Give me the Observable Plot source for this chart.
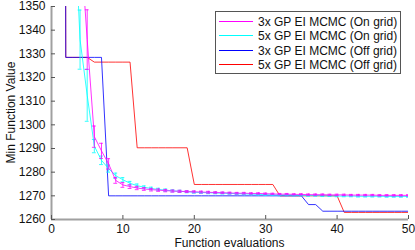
<!DOCTYPE html>
<html>
<head>
<meta charset="utf-8">
<script src="https://cdn.jsdelivr.net/npm/d3@7"></script>
<script src="https://cdn.jsdelivr.net/npm/@observablehq/plot@0.6"></script>
<style>
  html, body { margin: 0; padding: 0; background: #fff; }
  #chart { position: relative; width: 415px; height: 250px; }
  #chart svg { position: absolute; left: 0; top: 0; }
</style>
</head>
<body>
<div id="chart"></div>
<script>
// ---- data (x = 1..50 function evaluations) ----
const evals = d3.range(1, 51);
const xTicks = [0, 10, 20, 30, 40, 50];
const yTicks = [1260, 1270, 1280, 1290, 1300, 1310, 1320, 1330, 1340, 1350];
const xTitle = "Function evaluations";
const yTitle = "Min Function Value";
const seriesNames = [
  "3x GP EI MCMC (On grid)",
  "5x GP EI MCMC (On grid)",
  "3x GP EI MCMC (Off grid)",
  "5x GP EI MCMC (Off grid)"
];
const seriesColors = ["#ff00ff", "#00ffff", "#0000ff", "#ff0000"];

// 3x on grid (mean and error)
const onGrid3 = [null, null, null, 1380, 1336, 1295, 1289, 1283.5, 1276.5, 1274.6,
  1273.9, 1273.3, 1272.9, 1272.6, 1272.4, 1272.2, 1272.0, 1271.9, 1271.8, 1271.7,
  1271.6, 1271.5, 1271.4, 1271.3, 1271.2, 1271.1, 1271.1, 1271.0, 1271.0, 1270.9,
  1270.8, 1270.7, 1270.7, 1270.6, 1270.6, 1270.5, 1270.5, 1270.5, 1270.4, 1270.4,
  1270.4, 1270.3, 1270.3, 1270.3, 1270.3, 1270.2, 1270.2, 1270.2, 1270.2, 1270.2];
const onGrid3Err = [null, null, null, null, 12.6, 4.5, 3.2, 2.2, 1.2, 1.0,
  0.8, 0.7, 0.6, 0.55, 0.5, 0.5, 0.45, 0.45, 0.4, 0.4,
  0.4, 0.4, 0.35, 0.35, 0.35, 0.35, 0.35, 0.3, 0.3, 0.3,
  0.3, 0.3, 0.3, 0.3, 0.3, 0.3, 0.3, 0.3, 0.3, 0.3,
  0.3, 0.3, 0.3, 0.3, 0.3, 0.3, 0.3, 0.3, 0.3, 0.3];
// 5x on grid
const onGrid5 = [null, null, 1400, 1336, 1312.5, 1291, 1285, 1281.5, 1278.5, 1276.8,
  1275.3, 1274.3, 1273.6, 1273.1, 1272.7, 1272.4, 1272.1, 1271.9, 1271.7, 1271.5,
  1271.4, 1271.3, 1271.2, 1271.1, 1271.0, 1270.9, 1270.8, 1270.7, 1270.6, 1270.5,
  1270.4, 1270.3, 1270.3, 1270.2, 1270.2, 1270.1, 1270.1, 1270.0, 1270.0, 1269.9,
  1269.9, 1269.9, 1269.8, 1269.8, 1269.8, 1269.8, 1269.7, 1269.7, 1269.7, 1269.7];
const onGrid5Err = [null, null, null, 12.5, 11, 2.8, 1.8, 1.5, 1.1, 0.9,
  0.8, 0.7, 0.6, 0.55, 0.5, 0.5, 0.45, 0.45, 0.4, 0.4,
  0.4, 0.4, 0.35, 0.35, 0.35, 0.35, 0.35, 0.3, 0.3, 0.3,
  0.3, 0.3, 0.3, 0.3, 0.3, 0.3, 0.3, 0.3, 0.3, 0.3,
  0.3, 0.3, 0.3, 0.3, 0.3, 0.3, 0.3, 0.3, 0.3, 0.3];
// 3x off grid
const offGrid3 = [3000, 1328.5, 1328.5, 1328.5, 1328.5, 1328.5, 1328.5, 1270, 1270, 1270,
  1270, 1270, 1270, 1270, 1270, 1270, 1270, 1270, 1270, 1270,
  1270, 1270, 1270, 1270, 1270, 1270, 1270, 1270, 1270, 1270,
  1270, 1270, 1270, 1270, 1270, 1266.3, 1266.3, 1263.5, 1263.5, 1263.5,
  1263.5, 1263.5, 1263.5, 1263.5, 1263.5, 1263.5, 1263.5, 1263.5, 1263.5, 1263.5];
// 5x off grid
const offGrid5 = [3000, 1328.5, 1328.5, 1328.5, 1328.5, 1326.5, 1326.5, 1326.5, 1326.5, 1326.5,
  1326.5, 1290.3, 1290.3, 1290.3, 1290.3, 1290.3, 1290.3, 1290.3, 1290.3, 1274.8,
  1274.8, 1274.8, 1274.8, 1274.8, 1274.8, 1274.8, 1274.8, 1274.8, 1274.8, 1274.8,
  1274.8, 1270, 1270, 1270, 1270, 1270, 1270, 1270, 1270, 1270,
  1263, 1263, 1263, 1263, 1263, 1263, 1263, 1263, 1263, 1263];

// ---- build tables ----
const lineValues = [onGrid3, onGrid5, offGrid3, offGrid5];
const errValues = [onGrid3Err, onGrid5Err, null, null];
const lines = [];
const bars = [];
lineValues.forEach((vals, s) => {
  vals.forEach((v, i) => {
    if (v == null) return;
    lines.push({series: seriesNames[s], x: evals[i], y: v});
    const errs = errValues[s];
    if (errs && errs[i] != null) {
      bars.push({series: seriesNames[s], x: evals[i], lo: v - errs[i], hi: v + errs[i]});
    }
  });
});
const caps = bars.flatMap(b => [
  {series: b.series, x1: b.x - 0.27, x2: b.x + 0.27, y: b.lo},
  {series: b.series, x1: b.x - 0.27, x2: b.x + 0.27, y: b.hi}
]);
// draw order: red, blue, then on-grid series on top
const drawOrder = [3, 2, 1, 0];

const W = 415, H = 250;
const mL = 51, mR = 7, mT = 6, mB = 31;
const innerW = W - mL - mR, innerH = H - mT - mB;
const font = "'Liberation Sans', Arial, Helvetica, sans-serif";

const marks = [
  Plot.axisY({ticks: yTicks, tickSize: 0, tickPadding: 6, tickFormat: d => String(d), label: null, fontSize: 12, fill: "#111"}),
  Plot.axisX({ticks: xTicks, tickSize: 0, tickPadding: 5, tickFormat: d => String(d), label: null, fontSize: 12, fill: "#111"}),
  Plot.ruleX([0], {stroke: "#a0a0a0", strokeWidth: 2}),
  Plot.ruleY([1260], {stroke: "#a0a0a0", strokeWidth: 2}),
  Plot.ruleY(yTicks, {y: d => d, insetRight: innerW - 4, stroke: "#555"}),
  Plot.ruleX(xTicks, {x: d => d, insetTop: innerH - 4, stroke: "#555"}),
];
for (const s of drawOrder) {
  const name = seriesNames[s];
  marks.push(Plot.line(lines.filter(d => d.series === name), {
    x: "x", y: "y", stroke: seriesColors[s], strokeWidth: 1, strokeOpacity: 0.8, clip: true
  }));
  if (errValues[s]) {
    marks.push(Plot.ruleX(bars.filter(d => d.series === name), {
      x: "x", y1: "lo", y2: "hi", stroke: seriesColors[s], strokeWidth: 1, strokeOpacity: 0.8, clip: true
    }));
    marks.push(Plot.ruleY(caps.filter(d => d.series === name), {
      x1: "x1", x2: "x2", y: "y", stroke: seriesColors[s], strokeWidth: 1, strokeOpacity: 0.8, clip: true
    }));
  }
}

const chart = Plot.plot({
  width: W, height: H,
  marginLeft: mL, marginRight: mR, marginTop: mT, marginBottom: mB,
  x: {type: "linear", domain: [0, 50]},
  y: {type: "linear", domain: [1260, 1350]},
  style: {fontFamily: font, fontSize: "12px", background: "transparent", overflow: "visible"},
  marks
});
const host = document.getElementById("chart");
host.appendChild(chart);

// ---- overlay: axis titles and legend ----
const ov = d3.select(host).append("svg")
  .attr("width", W).attr("height", H)
  .attr("font-family", font).attr("font-size", 12);
ov.append("text")
  .attr("transform", `translate(11,${mT + innerH / 2}) rotate(-90)`)
  .attr("text-anchor", "middle").attr("dy", "0.35em").attr("fill", "#111").text(yTitle);
ov.append("text")
  .attr("x", mL + innerW / 2).attr("y", 242.5)
  .attr("text-anchor", "middle").attr("dy", "0.35em").attr("fill", "#111").text(xTitle);

const box = {x: 215, y: 11, w: 185, h: 62};
ov.append("rect").attr("x", box.x + 0.5).attr("y", box.y + 0.5).attr("width", box.w).attr("height", box.h)
  .attr("fill", "#fff").attr("stroke", "#555").attr("stroke-width", 1);
seriesNames.forEach((name, i) => {
  const cy = Math.round(box.y + 9.5 + i * 14.5) + 0.5;
  ov.append("line").attr("x1", box.x + 4).attr("x2", box.x + 38).attr("y1", cy).attr("y2", cy)
    .attr("stroke", seriesColors[i]).attr("stroke-width", 1.2);
  ov.append("text").attr("x", box.x + 43).attr("y", cy).attr("dy", "0.35em")
    .attr("text-anchor", "start").attr("fill", "#111").text(name);
});
</script>
</body>
</html>
